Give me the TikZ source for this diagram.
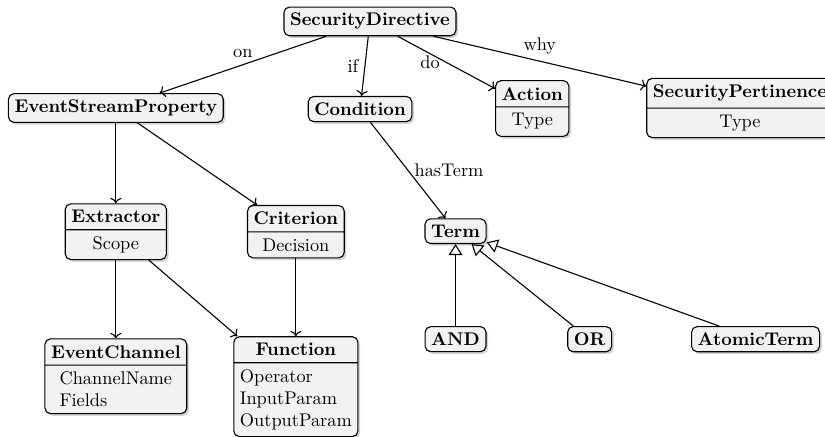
\documentclass[tikz,border=0pt]{standalone}
\usetikzlibrary{shapes.multipart,shadows,arrows.meta}
\begin{document}
\begin{tikzpicture}[
  umlbox/.style={draw, semithick, rounded corners=3pt, fill=gray!10,
    drop shadow={shadow xshift=1.2pt, shadow yshift=-1.2pt, opacity=0.35}},
  umlclass/.style={umlbox, rectangle split, rectangle split parts=2, align=left},
  umlname/.style={umlbox, font=\bfseries},
  assoc/.style={->, semithick},
  inherit/.style={-{Triangle[open,length=6pt,width=7.5pt]}, semithick}]
  \useasboundingbox (0,0) rectangle (15.81,-8.37);
  % top row
  \node[umlname] (directive) at (7.09,-0.41) {SecurityDirective};
  \node[umlname] (property) at (2.22,-2.07) {EventStreamProperty};
  \node[umlname] (condition) at (6.90,-2.09) {Condition};
  \node[umlclass] (action) at (10.20,-2.08) {\textbf{Action}\nodepart{second}Type};
  \node[umlclass] (pertinence) at (14.18,-2.07) {\textbf{SecurityPertinence}\nodepart{second}Type};
  % middle row
  \node[umlclass] (extractor) at (2.22,-4.44) {\textbf{Extractor}\nodepart{second}Scope};
  \node[umlclass] (criterion) at (5.67,-4.44) {\textbf{Criterion}\nodepart{second}Decision};
  \node[umlname] (term) at (8.73,-4.43) {Term};
  % bottom row
  \node[umlclass] (channel) at (2.22,-7.21) {\textbf{EventChannel}\nodepart{second}ChannelName\\ Fields};
  \node[umlclass] (function) at (5.67,-7.41) {\textbf{Function}\nodepart{second}Operator\\ InputParam\\ OutputParam};
  \node[umlname] (and) at (8.73,-6.50) {AND};
  \node[umlname] (or) at (11.30,-6.50) {OR};
  \node[umlname] (atomic) at (14.48,-6.50) {AtomicTerm};
  % associations
  \draw[assoc] (directive) -- node[above] {on} (property);
  \draw[assoc] (directive) -- node[left] {if} (condition);
  \draw[assoc] (directive) -- node[left] {do} (action);
  \draw[assoc] (directive) -- node[above] {why} (pertinence);
  \draw[assoc] (property) -- (extractor);
  \draw[assoc] (property) -- (criterion);
  \draw[assoc] (extractor) -- (channel);
  \draw[assoc] (extractor) -- (function);
  \draw[assoc] (criterion) -- (function);
  \draw[assoc] (condition) -- node[right] {hasTerm} (term);
  % inheritance
  \draw[inherit] (and) -- (term);
  \draw[inherit] (or) -- (term);
  \draw[inherit] (atomic) -- (term);
\end{tikzpicture}
\end{document}
